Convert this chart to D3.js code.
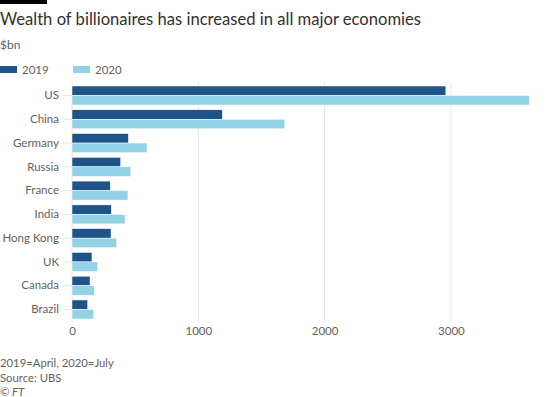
<!DOCTYPE html>
<html>
<head>
<meta charset="utf-8">
<script src="https://cdn.jsdelivr.net/npm/d3@7"></script>
<style>
body { margin: 0; background: #fff; }
svg text { font-family: Lato, "Noto Sans", sans-serif; }
</style>
</head>
<body>
<div id="chart"></div>
<script>
var countries = ["US", "China", "Germany", "Russia", "France", "India", "Hong Kong", "UK", "Canada", "Brazil"]
var wealth2019 = [2960, 1190, 446, 385, 303, 311, 309, 158, 143, 124]
var wealth2020 = [3620, 1685, 594, 465, 443, 420, 354, 203, 177, 172]
var seriesNames = ["2019", "2020"]
var xTicks = [0, 1000, 2000, 3000]

var w = 556,
	h = 397,
	margin = {top: 86, right: 20, bottom: 78, left: 72}

var cDark  = "#1f548b",
	cLight = "#93d2e5",
	cGrid  = "#e8e3de",
	cText  = "#66605c"

var svg = d3.select("#chart")
	.append("svg")
	.attr("width", w)
	.attr("height", h)

// FT black tag
svg.append("rect")
	.attr("x", 0).attr("y", 0)
	.attr("width", 47).attr("height", 4)
	.attr("fill", "#000")

svg.append("text")
	.attr("x", 0).attr("y", 25)
	.attr("font-size", 16.6)
	.attr("fill", "#33302e")
	.text("Wealth of billionaires has increased in all major economies")

svg.append("text")
	.attr("x", 0).attr("y", 49)
	.attr("font-size", 12)
	.attr("fill", cText)
	.text("$bn")

// legend
var legend = svg.selectAll(".legend")
	.data(seriesNames)
	.enter()
	.append("g")
	.attr("class", "legend")
	.attr("transform", function(d, i) { return "translate(" + (i * 73) + ",0)" })

legend.append("rect")
	.attr("x", 0).attr("y", 66)
	.attr("width", 17).attr("height", 7)
	.attr("fill", function(d, i) { return i == 0 ? cDark : cLight })

legend.append("text")
	.attr("x", 22).attr("y", 74)
	.attr("font-size", 11.5)
	.attr("fill", cText)
	.text(function(d) { return d })

var x = d3.scaleLinear()
	.domain([0, 3500])
	.range([margin.left, margin.left + 126.3 * 3.5])

var y = d3.scaleBand()
	.domain(countries)
	.range([margin.top, h - margin.bottom])
	.paddingInner(0.2)
	.paddingOuter(0)

var sub = d3.scaleBand()
	.domain(seriesNames)
	.range([0, y.bandwidth()])

// gridlines
svg.append("g")
	.selectAll("line")
	.data(xTicks)
	.enter()
	.append("line")
	.attr("x1", function(d) { return x(d) })
	.attr("x2", function(d) { return x(d) })
	.attr("y1", 82)
	.attr("y2", 322)
	.attr("stroke", cGrid)
	.attr("stroke-width", 1)

// x axis labels
var xAxis = svg.append("g")
	.attr("transform", "translate(0,322)")
	.call(d3.axisBottom(x).tickValues(xTicks).tickSize(0).tickPadding(5).tickFormat(d3.format("d")))
xAxis.select(".domain").remove()
xAxis.selectAll("text")
	.attr("font-size", 11.5)
	.attr("fill", cText)
	.style("font-family", "Lato, \"Noto Sans\", sans-serif")

// y axis
var yAxis = svg.append("g")
	.attr("transform", "translate(" + margin.left + ",0)")
	.call(d3.axisLeft(y).tickSize(9).tickPadding(4))
yAxis.select(".domain").remove()
yAxis.selectAll("line").attr("stroke", cGrid)
yAxis.selectAll("text")
	.attr("font-size", 11.5)
	.attr("fill", cText)
	.style("font-family", "Lato, \"Noto Sans\", sans-serif")

var rows = svg.selectAll(".row")
	.data(countries)
	.enter()
	.append("g")
	.attr("class", "row")
	.attr("transform", function(d) { return "translate(0," + y(d) + ")" })

rows.selectAll("rect")
	.data(function(d, i) { return [
		{s: "2019", v: wealth2019[i], c: cDark},
		{s: "2020", v: wealth2020[i], c: cLight}
	] })
	.enter()
	.append("rect")
	.attr("x", x(0))
	.attr("y", function(d) { return sub(d.s) })
	.attr("width", function(d) { return x(d.v) - x(0) })
	.attr("height", sub.bandwidth())
	.attr("fill", function(d) { return d.c })
	.attr("stroke", "#fff")
	.attr("stroke-width", 0.5)

// footer
var notes = ["2019=April, 2020=July", "Source: UBS"]
svg.selectAll(".note")
	.data(notes)
	.enter()
	.append("text")
	.attr("class", "note")
	.attr("x", 0)
	.attr("y", function(d, i) { return 367 + i * 14.5 })
	.attr("font-size", 11.3)
	.attr("fill", cText)
	.text(function(d) { return d })

svg.append("text")
	.attr("x", 0).attr("y", 395.5)
	.attr("font-size", 11.3)
	.attr("font-style", "italic")
	.attr("fill", cText)
	.text("\u00a9 FT")
</script>
</body>
</html>
